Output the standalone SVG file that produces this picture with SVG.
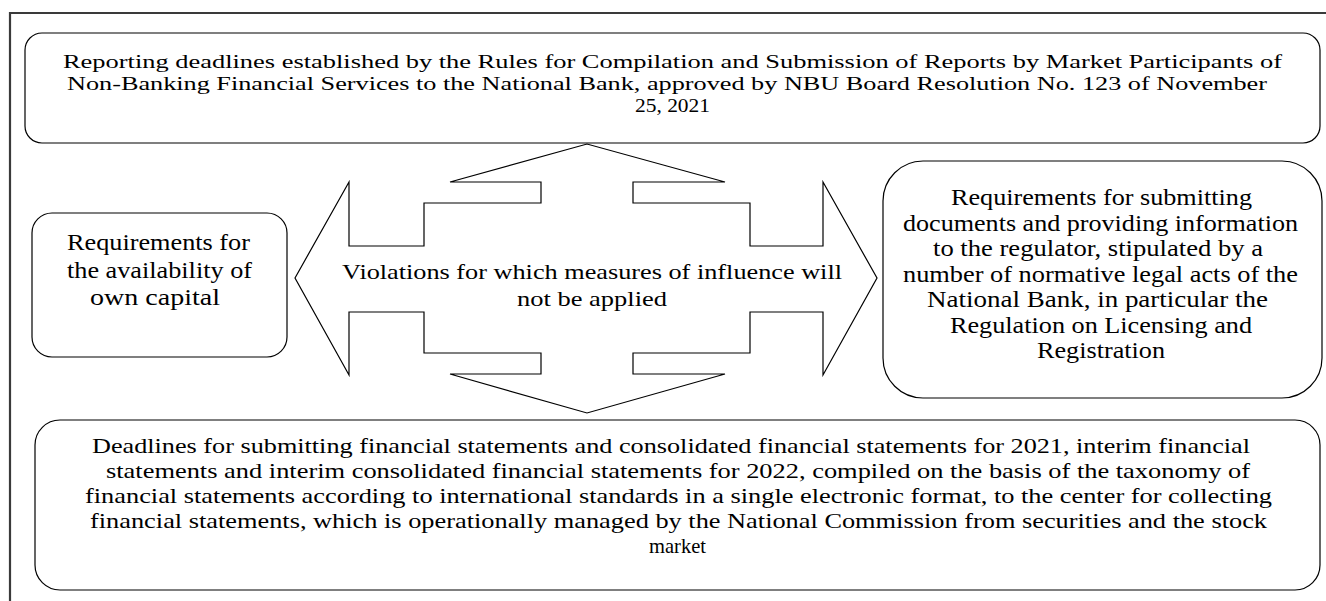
<svg xmlns="http://www.w3.org/2000/svg" width="1326" height="601" viewBox="0 0 1326 601">
<style>
.box{fill:#fff;stroke:#000;stroke-width:1.2}
.frame{fill:none;stroke:#3a3a3a;stroke-width:2.2}
.arrow{fill:#fff;stroke:#000;stroke-width:1.2;stroke-linejoin:miter}
text{font-family:"Liberation Serif","Times New Roman",serif;fill:#000;font-size:22px}
.t20{font-size:19.8px}
.t23{font-size:23px}
</style>
<rect width="1326" height="601" fill="#fff"/>
<g id="frame">
<path class="frame" d="M10,601 V13 H1326"/>
</g>
<g id="connectors">
<polygon class="arrow" points="295,278 349,182 349,246 424,246 424,203 541,203 541,182 450,182 587,144 725,182 633,182 633,203 750,203 750,246 823,246 823,182 877,278 823,375 823,312 750,312 750,353 633,353 633,374 725,374 587,413 450,374 541,374 541,353 424,353 424,312 349,312 349,375"/>
</g>
<g id="node-top">
<rect class="box" x="25" y="33" width="1295" height="110" rx="17"/>
<text class="t20" x="63" y="68" textLength="1219" lengthAdjust="spacingAndGlyphs">Reporting deadlines established by the Rules for Compilation and Submission of Reports by Market Participants of</text>
<text class="t20" x="67" y="90" textLength="1200" lengthAdjust="spacingAndGlyphs">Non-Banking Financial Services to the National Bank, approved by NBU Board Resolution No. 123 of November</text>
<text class="t20" x="635" y="112" textLength="75" lengthAdjust="spacingAndGlyphs">25, 2021</text>
</g>
<g id="node-left">
<rect class="box" x="32" y="213" width="255" height="144" rx="20"/>
<text class="t23" x="67" y="250" textLength="183" lengthAdjust="spacingAndGlyphs">Requirements for</text>
<text class="t23" x="67" y="277.5" textLength="185" lengthAdjust="spacingAndGlyphs">the availability of</text>
<text class="t23" x="90" y="305" textLength="130" lengthAdjust="spacingAndGlyphs">own capital</text>
</g>
<g id="node-center">
<text x="342" y="279" textLength="500" lengthAdjust="spacingAndGlyphs">Violations for which measures of influence will</text>
<text x="517" y="306" textLength="150" lengthAdjust="spacingAndGlyphs">not be applied</text>
</g>
<g id="node-right">
<rect class="box" x="883" y="161" width="439" height="237" rx="40"/>
<text class="t23" x="951" y="205" textLength="301" lengthAdjust="spacingAndGlyphs">Requirements for submitting</text>
<text class="t23" x="903" y="230.5" textLength="395" lengthAdjust="spacingAndGlyphs">documents and providing information</text>
<text class="t23" x="933" y="256" textLength="330" lengthAdjust="spacingAndGlyphs">to the regulator, stipulated by a</text>
<text class="t23" x="903" y="281.5" textLength="395" lengthAdjust="spacingAndGlyphs">number of normative legal acts of the</text>
<text class="t23" x="927" y="307" textLength="341" lengthAdjust="spacingAndGlyphs">National Bank, in particular the</text>
<text class="t23" x="950" y="332.5" textLength="302" lengthAdjust="spacingAndGlyphs">Regulation on Licensing and</text>
<text class="t23" x="1037" y="358" textLength="128" lengthAdjust="spacingAndGlyphs">Registration</text>
</g>
<g id="node-bottom">
<rect class="box" x="35" y="420" width="1285" height="170" rx="25"/>
<text x="92" y="453" textLength="1158" lengthAdjust="spacingAndGlyphs">Deadlines for submitting financial statements and consolidated financial statements for 2021, interim financial</text>
<text x="106" y="478" textLength="1144" lengthAdjust="spacingAndGlyphs">statements and interim consolidated financial statements for 2022, compiled on the basis of the taxonomy of</text>
<text x="85" y="503" textLength="1187" lengthAdjust="spacingAndGlyphs">financial statements according to international standards in a single electronic format, to the center for collecting</text>
<text x="90" y="528" textLength="1177" lengthAdjust="spacingAndGlyphs">financial statements, which is operationally managed by the National Commission from securities and the stock</text>
<text x="649" y="553" textLength="57" lengthAdjust="spacingAndGlyphs">market</text>
</g>
</svg>
